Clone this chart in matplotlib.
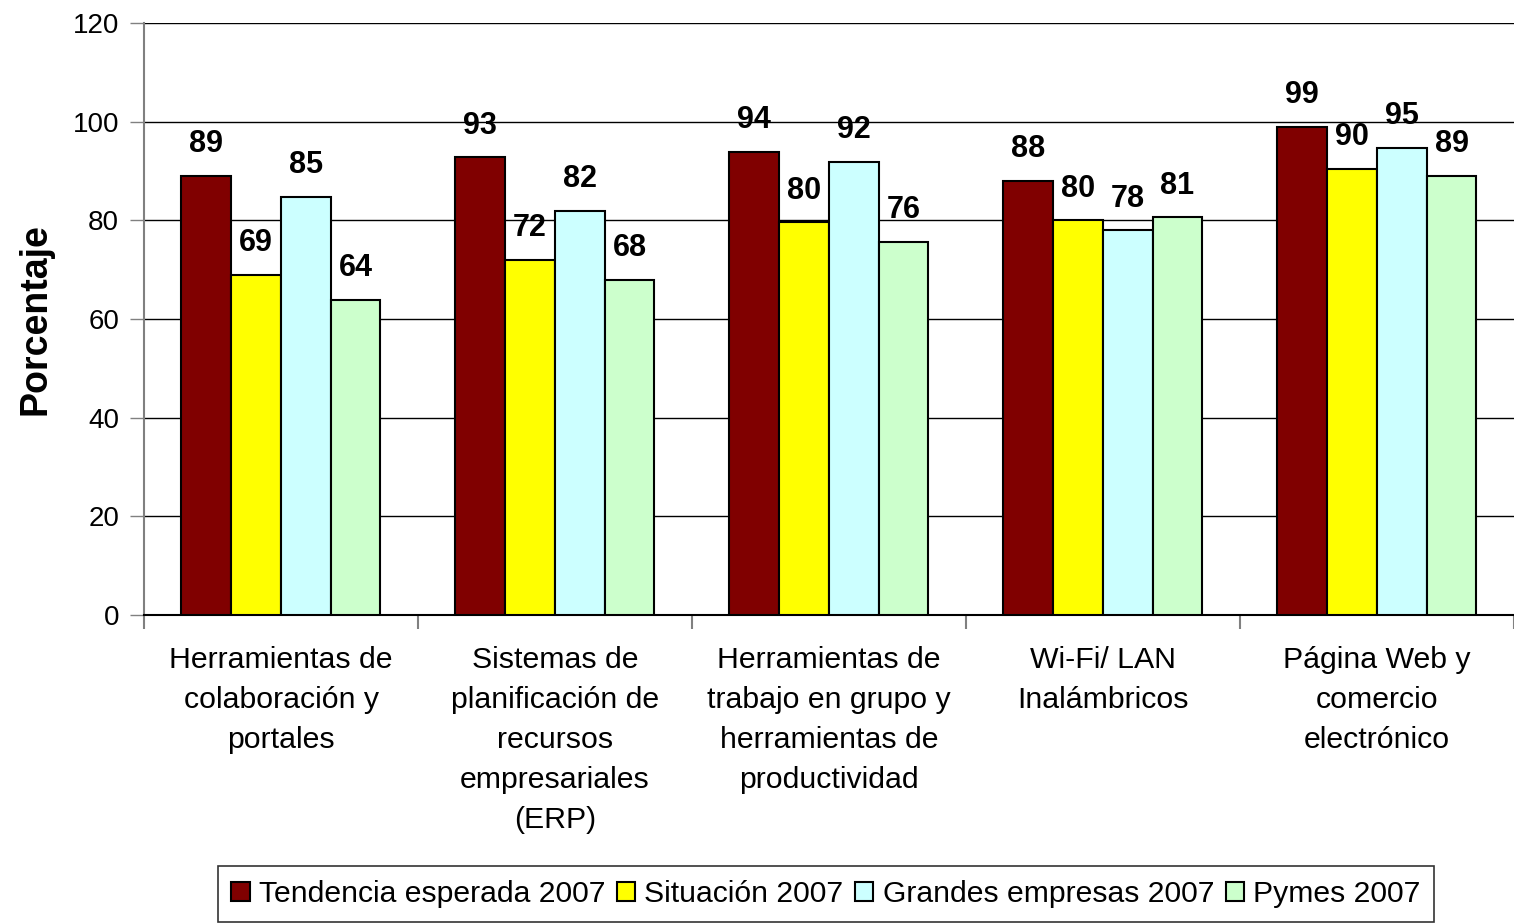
import numpy as np
import matplotlib.pyplot as plt
from matplotlib.ticker import FixedLocator, NullFormatter

plt.rcParams['font.family'] = ['Liberation Sans', 'DejaVu Sans']

categories = ['Herramientas de\ncolaboración y\nportales',
              'Sistemas de\nplanificación de\nrecursos\nempresariales\n(ERP)',
              'Herramientas de\ntrabajo en grupo y\nherramientas de\nproductividad',
              'Wi-Fi/ LAN\nInalámbricos',
              'Página Web y\ncomercio\nelectrónico']
series_names = ['Tendencia esperada 2007', 'Situación 2007',
                'Grandes empresas 2007', 'Pymes 2007']
tendencia = [89, 92.8, 93.9, 88, 99]
situacion = [69, 72, 79.6, 80, 90.4]
grandes = [84.7, 81.9, 91.9, 78, 94.7]
pymes = [63.9, 68, 75.6, 80.6, 89]
colors = ['#800000', '#FFFF00', '#CCFFFF', '#CCFFCC']

fig = plt.figure(figsize=(15.14, 9.24), dpi=100)
ax = fig.add_axes([144 / 1514, 1 - 615 / 924, 1 - 144 / 1514, (615 - 23) / 924])

x = np.arange(len(categories))
width = 0.182
offset0 = -0.5 + 0.135 + width / 2
series = [tendencia, situacion, grandes, pymes]
for i, (vals, name, col) in enumerate(zip(series, series_names, colors)):
    pos = x + offset0 + i * width
    bars = ax.bar(pos, vals, width, color=col, edgecolor='black',
                  linewidth=1.5, label=name, zorder=3)
    for b, v in zip(bars, vals):
        ax.annotate(f'{v:.0f}', (b.get_x() + b.get_width() / 2, v),
                    xytext=(0, 12), textcoords='offset points',
                    ha='center', va='bottom', fontsize=22, fontweight='bold')

ax.set_ylim(0, 120)
ax.set_xlim(-0.5, len(categories) - 0.5)
ax.set_yticks(range(0, 121, 20))
ax.yaxis.grid(True, color='black', linewidth=1, zorder=0)
ax.tick_params(axis='y', labelsize=20, length=10, width=1, color='#808080', pad=8)

ax.xaxis.set_major_locator(FixedLocator(np.arange(-0.5, len(categories), 1)))
ax.xaxis.set_major_formatter(NullFormatter())
ax.xaxis.set_minor_locator(FixedLocator(x))
ax.set_xticklabels(categories, minor=True, fontsize=21.8, linespacing=1.55)
ax.tick_params(axis='x', which='major', length=10, width=1.5, color='#808080')
ax.tick_params(axis='x', which='minor', length=0, pad=22)

for s in ['top', 'right']:
    ax.spines[s].set_visible(False)
ax.spines['left'].set_color('#808080')
ax.spines['left'].set_linewidth(1.5)
ax.spines['bottom'].set_color('black')
ax.spines['bottom'].set_linewidth(1.5)

ax.set_ylabel('Porcentaje', fontsize=27, fontweight='bold', labelpad=14)

leg = fig.legend(loc='center', bbox_to_anchor=(826 / 1514, 1 - 894 / 924),
                 ncol=4, fontsize=21.7, frameon=True, fancybox=False,
                 edgecolor='black', handlelength=0.6, handleheight=0.6,
                 handletextpad=0.3, columnspacing=0.4, borderpad=0.45)
leg.get_frame().set_linewidth(1.2)

fig.savefig('out.png', dpi=100)
